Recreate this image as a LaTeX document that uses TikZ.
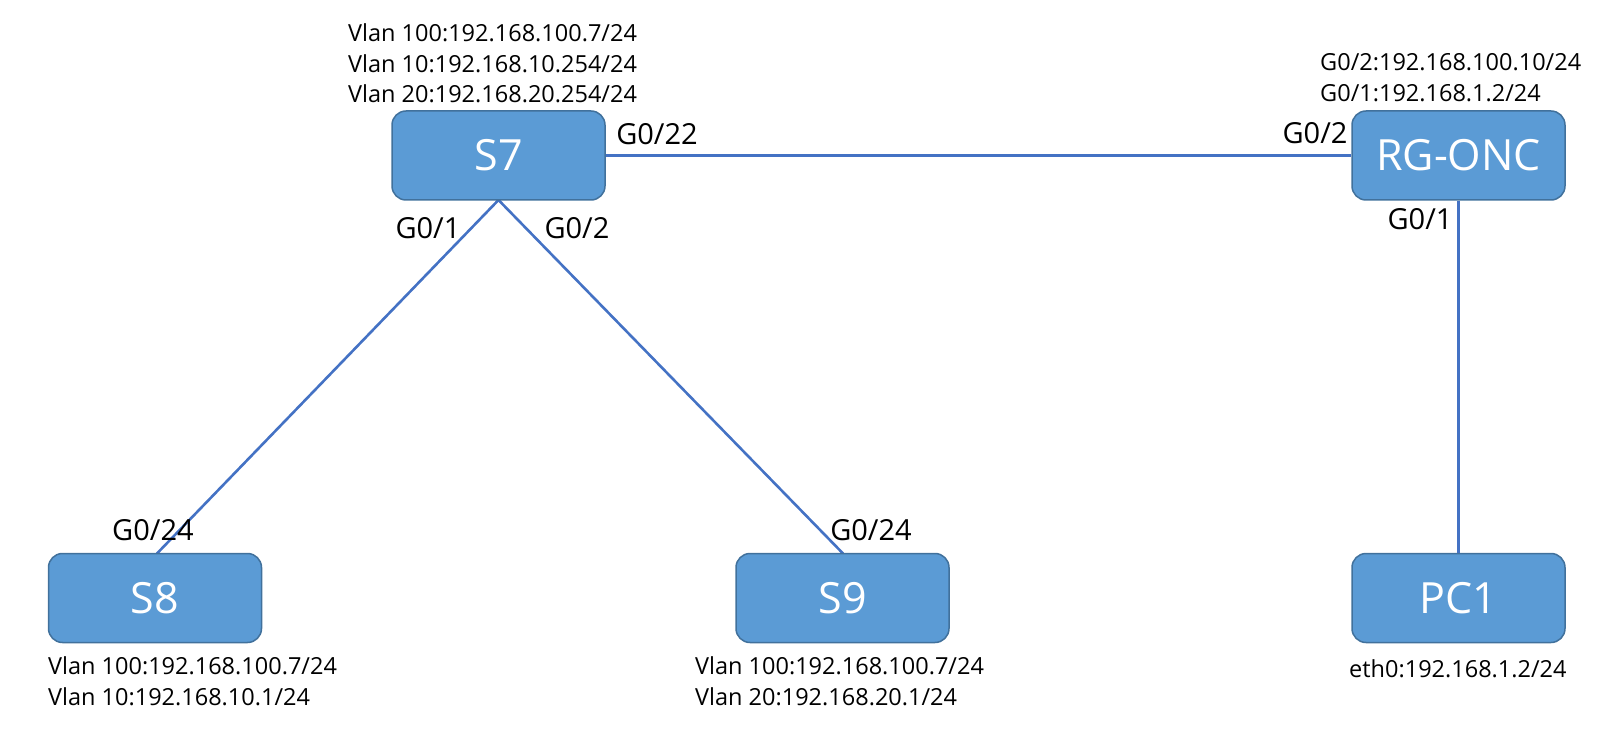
\documentclass[tikz,border=0pt]{standalone}
\usepackage{fontspec}
\setmainfont{Open Sans}
\definecolor{boxfill}{HTML}{5B9BD5}
\definecolor{boxline}{HTML}{41719C}
\definecolor{linkcol}{HTML}{4472C4}
\tikzset{
  device/.style={draw=boxline, line width=1.5pt, fill=boxfill, rounded corners=14pt,
    minimum width=213pt, minimum height=89pt, inner sep=0pt, text=white,
    font=\fontsize{43}{50}\selectfont},
  port/.style={inner sep=0pt, font=\fontsize{29}{34}\selectfont},
  info/.style={inner sep=0pt, align=left, anchor=north west, font=\fontsize{23.5}{30.5}\selectfont},
  link/.style={draw=linkcol, line width=2.6pt}
}
\begin{document}
\begin{tikzpicture}[x=1pt,y=-1pt]
\useasboundingbox (0,0) rectangle (1610,735);
\coordinate (s7b) at (498.5,200);
\coordinate (s8t) at (157,553.5);
\coordinate (s9t) at (843,553.5);
\draw[link] (s7b) -- (s8t);
\draw[link] (s7b) -- (s9t);
\node[device] (s7) at (498.5,155.5) {S7};
\node[device] (onc) at (1458.5,155.5) {RG-ONC};
\node[device] (s8) at (155,598) {S8};
\node[device] (s9) at (842.5,598) {S9};
\node[device] (pc1) at (1458.5,598) {PC1};
\draw[link] (s7.east) -- (onc.west);
\draw[link] (onc.south) -- (pc1.north);
\node[info] (t7) at (348,23.5) {Vlan 100:192.168.100.7/24\\Vlan 10:192.168.10.254/24\\Vlan 20:192.168.20.254/24};
\node[info] (tonc) at (1320,53.5) {G0/2:192.168.100.10/24\\G0/1:192.168.1.2/24};
\node[info] (t8) at (48,656.5) {Vlan 100:192.168.100.7/24\\Vlan 10:192.168.10.1/24};
\node[info] (t9) at (695,656.5) {Vlan 100:192.168.100.7/24\\Vlan 20:192.168.20.1/24};
\node[info] (tpc) at (1349,659) {eth0:192.168.1.2/24};
\node[port] (p1) at (657,134) {G0/22};
\node[port] (p2) at (1315,133) {G0/2};
\node[port] (p3) at (428,228) {G0/1};
\node[port] (p4) at (577,228) {G0/2};
\node[port] (p5) at (1420,219) {G0/1};
\node[port] (p6) at (153,530) {G0/24};
\node[port] (p7) at (871,530) {G0/24};
\end{tikzpicture}
\end{document}
